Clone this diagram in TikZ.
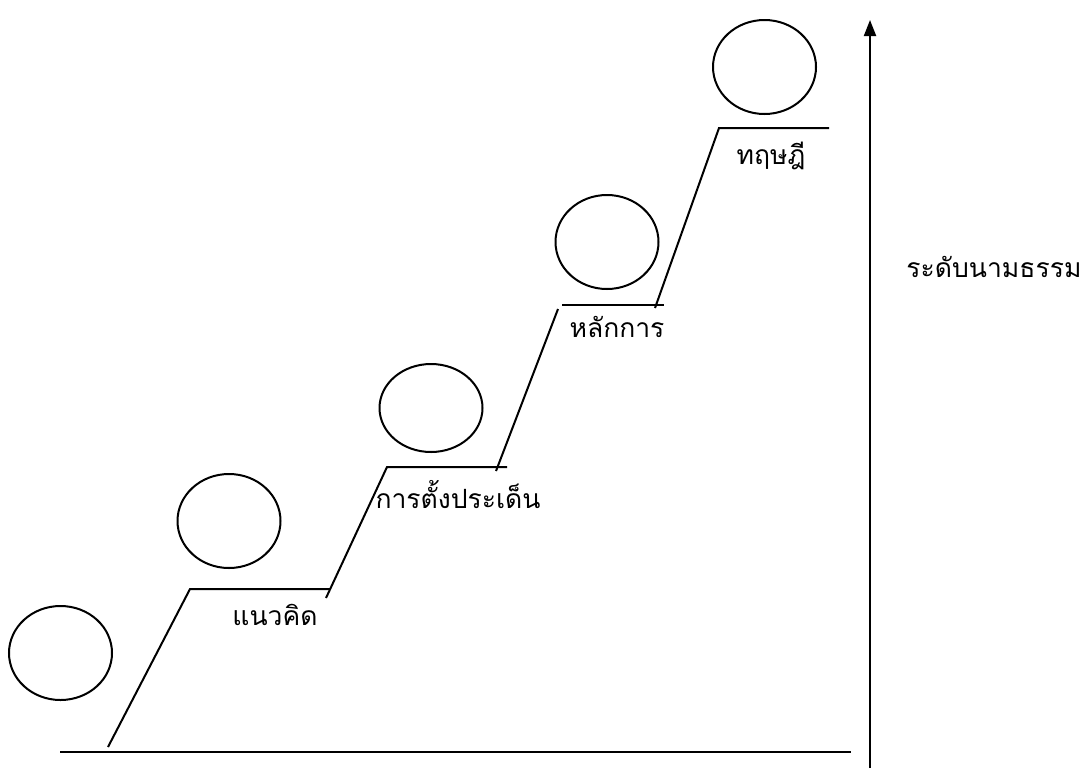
\documentclass[tikz,border=0pt]{standalone}
\usepackage{fontspec}
\newfontfamily\thaifont[Script=Thai]{Loma}
\usetikzlibrary{arrows.meta,shapes.geometric}
\begin{document}
\begin{tikzpicture}[x=1pt,y=-1pt,
  line/.style={line width=2pt},
  bubble/.style={draw,line width=2pt,ellipse,minimum width=103pt,minimum height=94pt,inner sep=0pt},
  label/.style={font=\thaifont\fontsize{26.5}{30}\selectfont,inner sep=0pt,anchor=center}]
\useasboundingbox (0,0) rectangle (1086,769);
% ground line and axis
\coordinate (g1) at (60,752);
\coordinate (g2) at (851,752);
\draw[line] (g1) -- (g2);
\coordinate (a1) at (870,768);
\coordinate (a2) at (870,20);
\draw[line,-{Triangle[length=16pt,width=12pt]}] (a1) -- (a2);
% stair
\coordinate (s0) at (108,747);
\coordinate (s1) at (190,589);
\coordinate (s2) at (330,589);
\coordinate (t1) at (326,598);
\coordinate (t2) at (387,467);
\coordinate (t3) at (507,467);
\coordinate (u1) at (496,471);
\coordinate (u2) at (558,309);
\coordinate (u3) at (562,305);
\coordinate (u4) at (664,305);
\coordinate (v1) at (655,308);
\coordinate (v2) at (719,128);
\coordinate (v3) at (829,128);
\draw[line] (s0) -- (s1) -- (s2);
\draw[line] (t1) -- (t2) -- (t3);
\draw[line] (u1) -- (u2);
\draw[line] (u3) -- (u4);
\draw[line] (v1) -- (v2) -- (v3);
% circles
\node[bubble] (c1) at (60.5,653) {};
\node[bubble] (c2) at (229,521) {};
\node[bubble,minimum height=88pt] (c3) at (431,408) {};
\node[bubble] (c4) at (607,242) {};
\node[bubble] (c5) at (764.5,67) {};
% labels
\node[label] (l1) at (275,615) {แนวคิด};
\node[label] (l2) at (458,495) {การตั้งประเด็น};
\node[label] (l3) at (617,327) {หลักการ};
\node[label] (l4) at (771,156) {ทฤษฎี};
\node[label] (l5) at (994,267) {ระดับนามธรรม};
\end{tikzpicture}
\end{document}
